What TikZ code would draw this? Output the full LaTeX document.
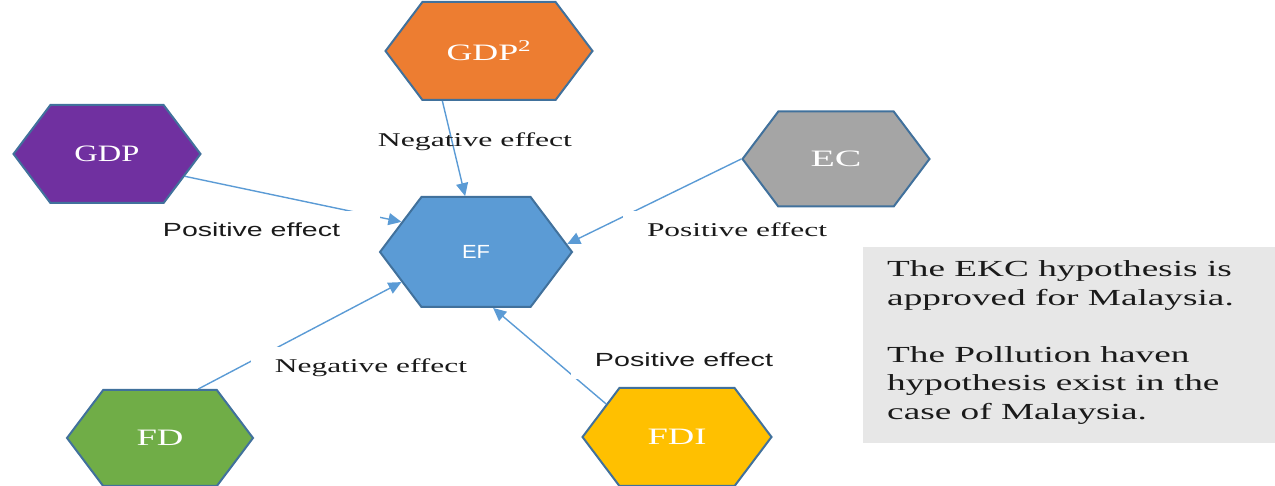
\documentclass[tikz,border=0pt]{standalone}
\usepackage{fontspec}
\setmainfont{Liberation Serif}
\setsansfont{Liberation Sans}
\usepackage{graphicx}
\usetikzlibrary{shapes.symbols,arrows.meta}
\definecolor{hexorange}{HTML}{ED7D31}
\definecolor{hexpurple}{HTML}{7030A0}
\definecolor{hexblue}{HTML}{5B9BD5}
\definecolor{hexgray}{HTML}{A5A5A5}
\definecolor{hexgreen}{HTML}{70AD47}
\definecolor{hexgold}{HTML}{FFC000}
\definecolor{hexborder}{HTML}{41719C}
\definecolor{linkblue}{HTML}{5B9BD5}
\definecolor{boxgray}{HTML}{E7E7E7}
\definecolor{labtext}{HTML}{1A1A1A}
\newcommand\wfit[2]{\resizebox{#1pt}{\height}{#2}}
\begin{document}
\begin{tikzpicture}[x=1pt,y=1pt,
  hexa/.style={signal, signal to=west and east, signal pointer angle=106,
    draw=hexborder, line width=2pt, inner sep=0pt, text=white,
    font=\fontsize{23.5}{25}\selectfont},
  link/.style={draw=linkblue, line width=1.4pt, -{Triangle[length=13pt,width=12pt]}},
  lab/.style={inner xsep=24pt, inner ysep=12pt, text=labtext, anchor=base},
  serlab/.style={lab, font=\fontsize{19.5}{22}\selectfont},
  sanslab/.style={lab, font=\sffamily\fontsize{19}{22}\selectfont},
]
\useasboundingbox (0,0) rectangle (1275,486);

% hexagons
\node[hexa, fill=hexorange, minimum width=207pt, minimum height=98pt] (gdp2) at (489,435) {\wfit{85}{GDP\textsuperscript{2}}};
\node[hexa, fill=hexpurple, minimum width=187pt, minimum height=98pt] (gdp) at (107,332) {\wfit{65}{GDP}};
\node[hexa, fill=hexblue, minimum width=192pt, minimum height=110pt, font=\sffamily\fontsize{19}{22}\selectfont] (ef) at (476,234) {\wfit{28}{EF}};
\node[hexa, fill=hexgray, minimum width=187pt, minimum height=95pt] (ec) at (836,327) {\wfit{51}{EC}};
\node[hexa, fill=hexgreen, minimum width=186pt, minimum height=96pt] (fd) at (160,48) {\wfit{47}{FD}};
\node[hexa, fill=hexgold, minimum width=189pt, minimum height=98pt] (fdi) at (677,49) {\wfit{59}{FDI}};

% connectors
\draw[link] (gdp2.-133) -- (ef.101);
\draw[link] (gdp.-16) -- (ef.158);
\draw[link] (ec.180) -- (ef.5);
\draw[link] (fd.52) -- (ef.-158);
\draw[link] (fdi.155) -- (ef.-73);

% labels
\node[serlab] (l1) at (475,339) {\wfit{194}{Negative effect}};
\node[sanslab, fill=white, inner xsep=40pt] (l2) at (251.5,249) {\wfit{177}{Positive effect}};
\node[serlab, fill=white] (l3) at (737,249) {\wfit{180}{Positive effect}};
\node[serlab, fill=white] (l4) at (371,113) {\wfit{192}{Negative effect}};
\node[sanslab, fill=white] (l5) at (684,119) {\wfit{178}{Positive effect}};

% note box
\node[fill=boxgray, anchor=north west, minimum width=412pt, minimum height=196pt, inner sep=0pt] (box) at (863,239) {};
\node[anchor=base west, inner sep=0pt, text=labtext, font=\fontsize{23}{28.5}\selectfont] (note) at (887,209)
  {\scalebox{1.62}[1]{\begin{tabular}[t]{@{}l@{}}The EKC hypothesis is\\ approved for Malaysia.\\[28.5pt] The Pollution haven\\ hypothesis exist in the\\ case of Malaysia.\end{tabular}}};
\end{tikzpicture}
\end{document}
